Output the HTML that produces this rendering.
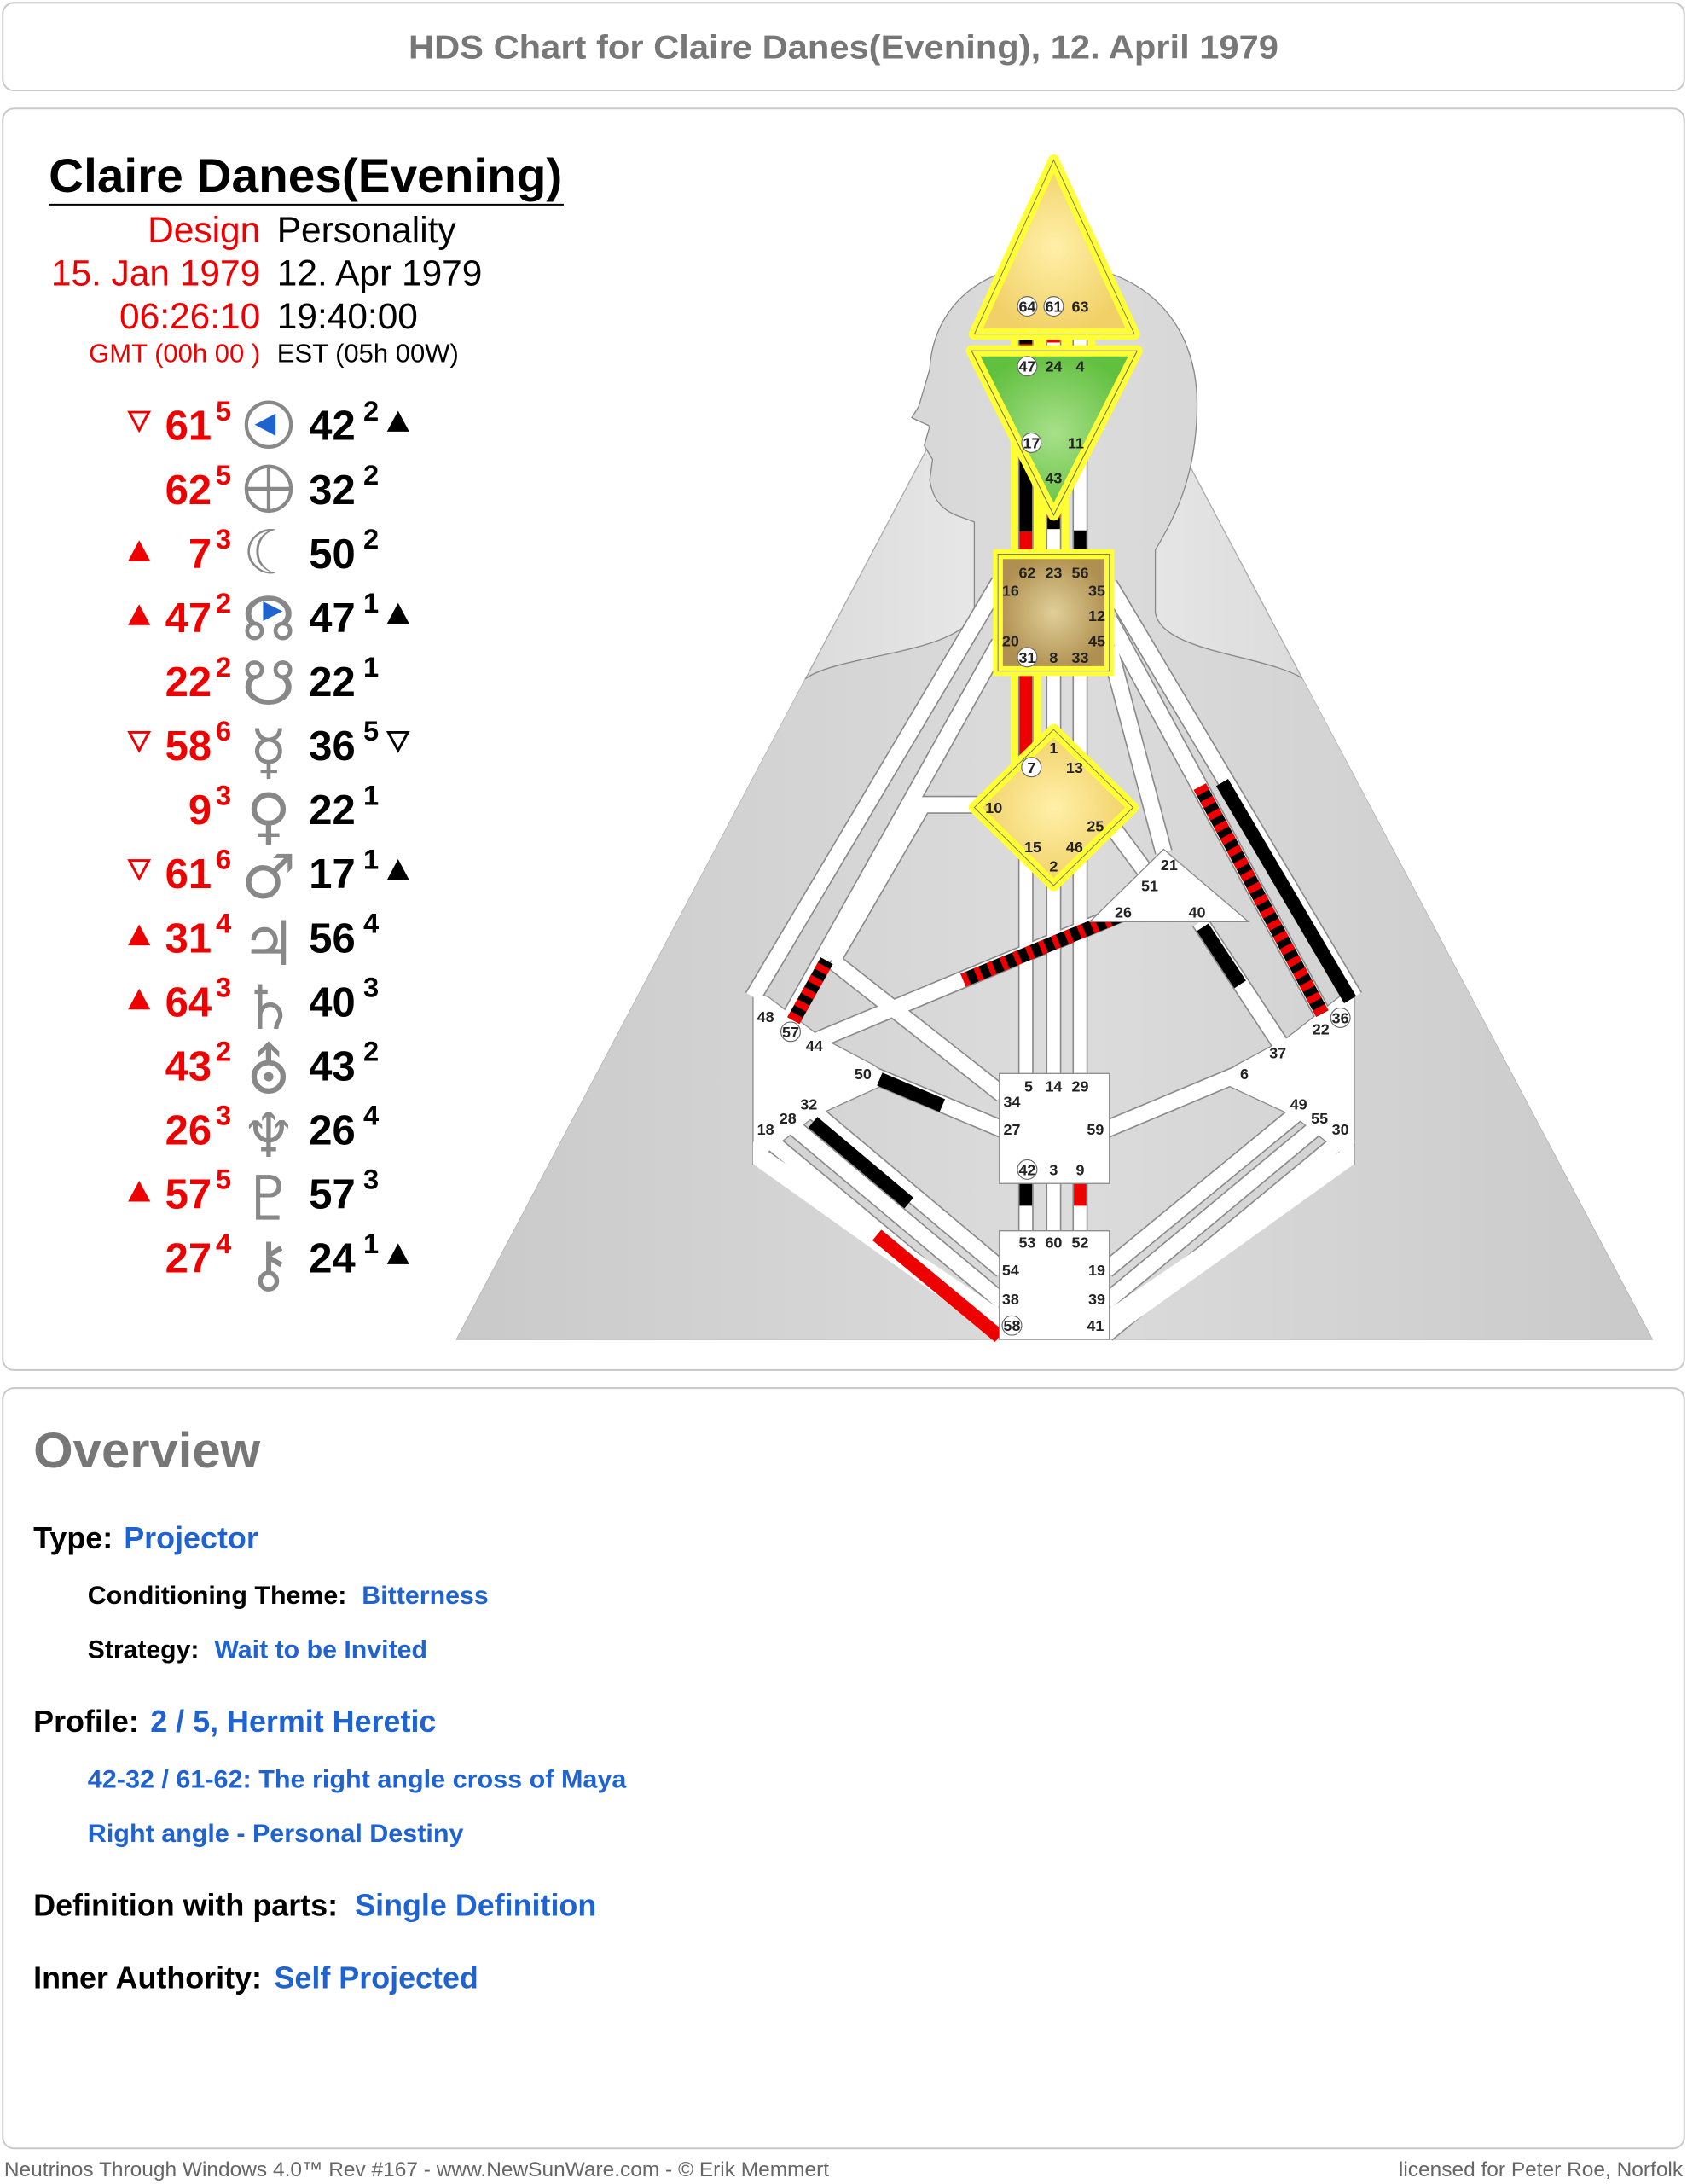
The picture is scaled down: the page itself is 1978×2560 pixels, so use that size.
<!DOCTYPE html>
<html><head><meta charset="utf-8"><style>
html,body{margin:0;padding:0;background:#fff;}
svg{display:block;}
text{font-family:"Liberation Sans",Arial,sans-serif;}
.g{font-size:11px;font-weight:bold;fill:#222;text-anchor:middle;}
.rn{font-size:30px;font-weight:bold;fill:#e00;text-anchor:end;}
.rs{font-size:20px;font-weight:bold;fill:#e00;}
.bn{font-size:30px;font-weight:bold;fill:#000;}
.bs{font-size:20px;font-weight:bold;fill:#000;}
.sym{font-family:"DejaVu Sans",sans-serif;font-size:44px;fill:#888;text-anchor:middle;}
.lab{font-weight:bold;fill:#000;}
.blu{fill:#1f63d0;}
</style></head><body>
<svg width="1978" height="2560" viewBox="0 0 1212 1568.6" preserveAspectRatio="none" xmlns="http://www.w3.org/2000/svg">
<defs>
<linearGradient id="tri" x1="0" y1="0" x2="1" y2="0">
<stop offset="0" stop-color="#c4c4c4"/><stop offset="0.5" stop-color="#ececec"/><stop offset="1" stop-color="#c4c4c4"/></linearGradient>
<linearGradient id="bod" x1="0" y1="0" x2="1" y2="0">
<stop offset="0" stop-color="#c8c8c8"/><stop offset="0.5" stop-color="#dcdcdc"/><stop offset="1" stop-color="#c8c8c8"/></linearGradient>
<radialGradient id="yel"><stop offset="0" stop-color="#fff0a8"/><stop offset="1" stop-color="#f1d067"/></radialGradient>
<radialGradient id="grn"><stop offset="0" stop-color="#a8e08a"/><stop offset="1" stop-color="#62c040"/></radialGradient>
<radialGradient id="brn"><stop offset="0" stop-color="#e0cf98"/><stop offset="1" stop-color="#b09050"/></radialGradient>
<clipPath id="tc"><polygon points="328,962 757,150 1187,962"/><rect x="640" y="170" width="240" height="300"/></clipPath>
</defs>

<rect x="2" y="2" width="1208" height="63" rx="8" fill="#fff" stroke="#c8c8c8" stroke-width="1.2"/>
<text x="606" y="42" font-size="24" font-weight="bold" fill="#777" text-anchor="middle" textLength="625" lengthAdjust="spacingAndGlyphs">HDS Chart for Claire Danes(Evening), 12. April 1979</text>
<rect x="2" y="78" width="1208" height="906" rx="8" fill="#fff" stroke="#c8c8c8" stroke-width="1.2"/>
<rect x="2" y="997" width="1208" height="546" rx="8" fill="#fff" stroke="#c8c8c8" stroke-width="1.2"/>

<!-- ===== chart ===== -->
<polygon points="328,962 757,150 1187,962" fill="url(#tri)" stroke="#aaa" stroke-width="0.8"/>
<g clip-path="url(#tc)">
<path d="M700,440 C690,470 600,470 578,488 C555,505 540,520 520,560 L300,1000 L1220,1000 L990,560 C975,515 955,500 940,490 C915,470 835,470 830,440 L830,395 C845,370 860,340 860,290 C860,230 820,190 757,190 C700,190 670,225 668,265 L660,292 L655,300 L668,306 L664,320 L670,330 L668,345 C672,370 690,370 700,375 Z" fill="url(#bod)" stroke="#888" stroke-width="0.8"/>
</g>

<line x1="737" y1="230" x2="737" y2="548" stroke="#ffff33" stroke-width="22"/>
<line x1="757" y1="230" x2="757" y2="400" stroke="#ffff33" stroke-width="22"/>
<line x1="776" y1="230" x2="776" y2="262" stroke="#ffff33" stroke-width="22"/>

<g stroke-linecap="butt" fill="none">
<g stroke="#8a8a8a" stroke-width="13">
<line x1="718" y1="418" x2="541" y2="716"/>
<line x1="718" y1="462" x2="565" y2="735"/>
<polyline points="702,578 663,578 598,690"/>
<line x1="598" y1="690" x2="720" y2="786"/>
<line x1="585" y1="748" x2="808" y2="655"/>
<line x1="622" y1="770" x2="720" y2="811"/>
<line x1="583" y1="797" x2="720" y2="912"/>
<line x1="566" y1="806" x2="720" y2="935"/>
<line x1="548" y1="815" x2="720" y2="958"/>
<line x1="797" y1="420" x2="973" y2="716"/>
<line x1="797" y1="445" x2="950" y2="728"/>
<line x1="797" y1="465" x2="836" y2="612"/>
<line x1="800" y1="595" x2="826" y2="630"/>
<line x1="862" y1="662" x2="920" y2="750"/>
<line x1="893" y1="770" x2="795" y2="811"/>
<line x1="935" y1="797" x2="795" y2="912"/>
<line x1="950" y1="806" x2="795" y2="935"/>
<line x1="968" y1="815" x2="795" y2="958"/>
</g>
<g stroke="#8a8a8a" stroke-width="11">
<line x1="737" y1="240" x2="737" y2="254"/><line x1="757" y1="240" x2="757" y2="254"/><line x1="776" y1="240" x2="776" y2="254"/>
<line x1="737" y1="318" x2="737" y2="400"/><line x1="757" y1="350" x2="757" y2="400"/><line x1="776" y1="318" x2="776" y2="400"/>
<line x1="737" y1="482" x2="737" y2="548"/><line x1="757" y1="482" x2="757" y2="530"/><line x1="776" y1="482" x2="776" y2="552"/>
<line x1="737" y1="600" x2="737" y2="772"/><line x1="757" y1="615" x2="757" y2="772"/><line x1="776" y1="600" x2="776" y2="772"/>
<line x1="737" y1="849" x2="737" y2="885"/><line x1="757" y1="849" x2="757" y2="885"/><line x1="776" y1="849" x2="776" y2="885"/>
</g>
<polygon points="541,712 552,716 590,745 628,765 642,776 585,802 541,836" fill="#fff" stroke="#8a8a8a" stroke-width="0.8"/>
<polygon points="973,712 962,716 925,745 888,765 874,776 930,802 973,836" fill="#fff" stroke="#8a8a8a" stroke-width="0.8"/>
<polygon points="541,820 541,836 718,962 718,940" fill="#fff"/>
<polygon points="973,820 973,836 797,962 797,940" fill="#fff"/>
<g stroke="#fff" stroke-width="11">
<line x1="718" y1="418" x2="541" y2="716"/>
<line x1="718" y1="462" x2="565" y2="735"/>
<polyline points="702,578 663,578 598,690"/>
<line x1="598" y1="690" x2="720" y2="786"/>
<line x1="585" y1="748" x2="808" y2="655"/>
<line x1="622" y1="770" x2="720" y2="811"/>
<line x1="583" y1="797" x2="720" y2="912"/>
<line x1="566" y1="806" x2="720" y2="935"/>
<line x1="548" y1="815" x2="720" y2="958"/>
<line x1="797" y1="420" x2="973" y2="716"/>
<line x1="797" y1="445" x2="950" y2="728"/>
<line x1="797" y1="465" x2="836" y2="612"/>
<line x1="800" y1="595" x2="826" y2="630"/>
<line x1="862" y1="662" x2="920" y2="750"/>
<line x1="893" y1="770" x2="795" y2="811"/>
<line x1="935" y1="797" x2="795" y2="912"/>
<line x1="950" y1="806" x2="795" y2="935"/>
<line x1="968" y1="815" x2="795" y2="958"/>
</g>
<g stroke="#fff" stroke-width="9">
<line x1="737" y1="240" x2="737" y2="254"/><line x1="757" y1="240" x2="757" y2="254"/><line x1="776" y1="240" x2="776" y2="254"/>
<line x1="737" y1="318" x2="737" y2="400"/><line x1="757" y1="350" x2="757" y2="400"/><line x1="776" y1="318" x2="776" y2="400"/>
<line x1="737" y1="482" x2="737" y2="548"/><line x1="757" y1="482" x2="757" y2="530"/><line x1="776" y1="482" x2="776" y2="552"/>
<line x1="737" y1="600" x2="737" y2="772"/><line x1="757" y1="615" x2="757" y2="772"/><line x1="776" y1="600" x2="776" y2="772"/>
<line x1="737" y1="849" x2="737" y2="885"/><line x1="757" y1="849" x2="757" y2="885"/><line x1="776" y1="849" x2="776" y2="885"/>
</g>
<line x1="737" y1="238" x2="737" y2="254" stroke="#e00" stroke-width="9"/>
<line x1="737" y1="243" x2="737" y2="247" stroke="#000" stroke-width="9"/>
<line x1="757" y1="238" x2="757" y2="246" stroke="#e00" stroke-width="9"/>
<line x1="737" y1="318" x2="737" y2="382" stroke="#000" stroke-width="9"/>
<line x1="737" y1="382" x2="737" y2="400" stroke="#e00" stroke-width="9"/>
<line x1="757" y1="355" x2="757" y2="362" stroke="#000" stroke-width="9"/>
<line x1="757" y1="362" x2="757" y2="372" stroke="#e00" stroke-width="9"/>
<line x1="757" y1="372" x2="757" y2="380" stroke="#000" stroke-width="9"/>
<line x1="776" y1="381" x2="776" y2="400" stroke="#000" stroke-width="9"/>
<line x1="737" y1="482" x2="737" y2="548" stroke="#e00" stroke-width="9"/>
<line x1="737" y1="850" x2="737" y2="866" stroke="#000" stroke-width="9"/>
<line x1="776" y1="850" x2="776" y2="866" stroke="#e00" stroke-width="9"/>
<line x1="570" y1="733" x2="594" y2="690" stroke="#000" stroke-width="10"/>
<line x1="570" y1="733" x2="594" y2="690" stroke="#e00" stroke-width="10" stroke-dasharray="5 5"/>
<line x1="692" y1="704" x2="806" y2="657" stroke="#000" stroke-width="10"/>
<line x1="692" y1="704" x2="806" y2="657" stroke="#e00" stroke-width="10" stroke-dasharray="4 6"/>
<line x1="632" y1="775" x2="677" y2="794" stroke="#000" stroke-width="10"/>
<line x1="584" y1="806" x2="653" y2="864" stroke="#000" stroke-width="10"/>
<line x1="630" y1="887" x2="718" y2="960" stroke="#e00" stroke-width="10"/>
<line x1="864" y1="666" x2="891" y2="707" stroke="#000" stroke-width="10"/>
<line x1="878" y1="562" x2="970" y2="718" stroke="#000" stroke-width="10"/>
<line x1="862" y1="565" x2="950" y2="728" stroke="#000" stroke-width="10"/>
<line x1="862" y1="565" x2="950" y2="728" stroke="#e00" stroke-width="10" stroke-dasharray="5 5"/>
</g>

<polygon points="757,115 700,240 815,240" fill="url(#yel)" stroke="#ffff33" stroke-width="8" stroke-linejoin="round"/>
<polygon points="757,115 700,240 815,240" fill="none" stroke="#777" stroke-width="0.6"/>
<polygon points="698,252 817,252 757,370" fill="url(#grn)" stroke="#ffff33" stroke-width="8" stroke-linejoin="round"/>
<polygon points="698,252 817,252 757,370" fill="none" stroke="#666" stroke-width="0.6"/>
<rect x="717" y="398" width="80" height="84" fill="url(#brn)" stroke="#ffff33" stroke-width="7"/>
<rect x="717" y="398" width="80" height="84" fill="none" stroke="#777" stroke-width="0.6"/>
<polygon points="757,524 814,580 757,636 700,580" fill="url(#yel)" stroke="#ffff33" stroke-width="8" stroke-linejoin="round"/>
<polygon points="757,524 814,580 757,636 700,580" fill="none" stroke="#777" stroke-width="0.6"/>
<polygon points="836,610 897,662 783,662" fill="#fff" stroke="#8a8a8a" stroke-width="0.8"/>
<rect x="718" y="771" width="79" height="79" fill="#fff" stroke="#8a8a8a" stroke-width="0.8"/>
<rect x="718" y="884" width="79" height="78" fill="#fff" stroke="#8a8a8a" stroke-width="0.8"/>

<g fill="#fff" stroke="#666" stroke-width="0.7">
<circle cx="738" cy="220" r="7"/><circle cx="757" cy="220" r="7"/><circle cx="738" cy="263" r="7"/>
<circle cx="741" cy="318" r="7"/><circle cx="738" cy="472" r="7"/><circle cx="741" cy="551" r="7"/>
<circle cx="568" cy="741" r="7"/><circle cx="963" cy="731" r="7"/><circle cx="738" cy="840" r="7"/><circle cx="727" cy="952" r="7"/>
</g>
<g class="g">
<text x="738" y="224">64</text><text x="757" y="224">61</text><text x="776" y="224">63</text>
<text x="738" y="267">47</text><text x="757" y="267">24</text><text x="776" y="267">4</text>
<text x="741" y="322">17</text><text x="773" y="322">11</text><text x="757" y="347">43</text>
<text x="738" y="415">62</text><text x="757" y="415">23</text><text x="776" y="415">56</text>
<text x="726" y="428">16</text><text x="788" y="428">35</text><text x="788" y="446">12</text>
<text x="726" y="464">20</text><text x="788" y="464">45</text>
<text x="738" y="476">31</text><text x="757" y="476">8</text><text x="776" y="476">33</text>
<text x="757" y="541">1</text><text x="741" y="555">7</text><text x="772" y="555">13</text>
<text x="714" y="584">10</text><text x="787" y="597">25</text><text x="742" y="612">15</text><text x="772" y="612">46</text><text x="757" y="626">2</text>
<text x="840" y="625">21</text><text x="826" y="640">51</text><text x="807" y="659">26</text><text x="860" y="659">40</text>
<text x="550" y="734">48</text><text x="568" y="745">57</text><text x="585" y="755">44</text><text x="620" y="775">50</text>
<text x="581" y="797">32</text><text x="566" y="807">28</text><text x="550" y="815">18</text>
<text x="963" y="735">36</text><text x="949" y="743">22</text><text x="918" y="760">37</text><text x="894" y="775">6</text>
<text x="933" y="797">49</text><text x="948" y="807">55</text><text x="963" y="815">30</text>
<text x="739" y="784">5</text><text x="757" y="784">14</text><text x="776" y="784">29</text>
<text x="727" y="795">34</text><text x="727" y="815">27</text><text x="787" y="815">59</text>
<text x="738" y="844">42</text><text x="757" y="844">3</text><text x="776" y="844">9</text>
<text x="738" y="896">53</text><text x="757" y="896">60</text><text x="776" y="896">52</text>
<text x="726" y="916">54</text><text x="788" y="916">19</text><text x="726" y="937">38</text><text x="788" y="937">39</text>
<text x="727" y="956">58</text><text x="787" y="956">41</text>
</g>

<!-- ===== left panel ===== -->
<text x="35" y="138" font-size="34" font-weight="bold" fill="#000" textLength="369" lengthAdjust="spacingAndGlyphs">Claire Danes(Evening)</text>
<line x1="35" y1="147" x2="405" y2="147" stroke="#000" stroke-width="1.2"/>
<g font-size="26">
<text x="187" y="174" fill="#e00" text-anchor="end">Design</text><text x="199" y="174" fill="#000">Personality</text>
<text x="187" y="205" fill="#e00" text-anchor="end">15. Jan 1979</text><text x="199" y="205" fill="#000">12. Apr 1979</text>
<text x="187" y="236" fill="#e00" text-anchor="end">06:26:10</text><text x="199" y="236" fill="#000">19:40:00</text>
</g>
<text x="187" y="260" font-size="19" fill="#e00" text-anchor="end">GMT (00h 00 )</text>
<text x="199" y="260" font-size="19" fill="#000">EST (05h 00W)</text>

<g>
<text class="rn" x="152" y="316">61</text><text class="rs" x="155" y="302">5</text>
<text class="rn" x="152" y="362">62</text><text class="rs" x="155" y="348">5</text>
<text class="rn" x="152" y="408">7</text><text class="rs" x="155" y="394">3</text>
<text class="rn" x="152" y="454">47</text><text class="rs" x="155" y="440">2</text>
<text class="rn" x="152" y="500">22</text><text class="rs" x="155" y="486">2</text>
<text class="rn" x="152" y="546">58</text><text class="rs" x="155" y="532">6</text>
<text class="rn" x="152" y="592">9</text><text class="rs" x="155" y="578">3</text>
<text class="rn" x="152" y="638">61</text><text class="rs" x="155" y="624">6</text>
<text class="rn" x="152" y="684">31</text><text class="rs" x="155" y="670">4</text>
<text class="rn" x="152" y="730">64</text><text class="rs" x="155" y="716">3</text>
<text class="rn" x="152" y="776">43</text><text class="rs" x="155" y="762">2</text>
<text class="rn" x="152" y="822">26</text><text class="rs" x="155" y="808">3</text>
<text class="rn" x="152" y="868">57</text><text class="rs" x="155" y="854">5</text>
<text class="rn" x="152" y="914">27</text><text class="rs" x="155" y="900">4</text>

<text class="bn" x="222" y="316">42</text><text class="bs" x="261" y="302">2</text>
<text class="bn" x="222" y="362">32</text><text class="bs" x="261" y="348">2</text>
<text class="bn" x="222" y="408">50</text><text class="bs" x="261" y="394">2</text>
<text class="bn" x="222" y="454">47</text><text class="bs" x="261" y="440">1</text>
<text class="bn" x="222" y="500">22</text><text class="bs" x="261" y="486">1</text>
<text class="bn" x="222" y="546">36</text><text class="bs" x="261" y="532">5</text>
<text class="bn" x="222" y="592">22</text><text class="bs" x="261" y="578">1</text>
<text class="bn" x="222" y="638">17</text><text class="bs" x="261" y="624">1</text>
<text class="bn" x="222" y="684">56</text><text class="bs" x="261" y="670">4</text>
<text class="bn" x="222" y="730">40</text><text class="bs" x="261" y="716">3</text>
<text class="bn" x="222" y="776">43</text><text class="bs" x="261" y="762">2</text>
<text class="bn" x="222" y="822">26</text><text class="bs" x="261" y="808">4</text>
<text class="bn" x="222" y="868">57</text><text class="bs" x="261" y="854">3</text>
<text class="bn" x="222" y="914">24</text><text class="bs" x="261" y="900">1</text>
</g>
<g>
<polygon points="93,296 107,296 100,309" fill="none" stroke="#e00" stroke-width="1.8"/>
<polygon points="93,526 107,526 100,539" fill="none" stroke="#e00" stroke-width="1.8"/>
<polygon points="93,618 107,618 100,631" fill="none" stroke="#e00" stroke-width="1.8"/>
<polygon points="92,403 108,403 100,388" fill="#e00"/>
<polygon points="92,449 108,449 100,434" fill="#e00"/>
<polygon points="92,679 108,679 100,664" fill="#e00"/>
<polygon points="92,725 108,725 100,710" fill="#e00"/>
<polygon points="92,863 108,863 100,848" fill="#e00"/>
<polygon points="278,310 294,310 286,295" fill="#000"/>
<polygon points="278,448 294,448 286,433" fill="#000"/>
<polygon points="279,526 293,526 286,539" fill="none" stroke="#000" stroke-width="1.8"/>
<polygon points="278,632 294,632 286,617" fill="#000"/>
<polygon points="278,908 294,908 286,893" fill="#000"/>
</g>
<circle cx="193" cy="305" r="16" fill="none" stroke="#888" stroke-width="2.6"/>
<polygon points="183,305 198,297 198,313" fill="#1f63d0"/>
<circle cx="193" cy="351" r="16" fill="none" stroke="#888" stroke-width="2.6"/>
<line x1="177" y1="351" x2="209" y2="351" stroke="#888" stroke-width="2.6"/>
<line x1="193" y1="335" x2="193" y2="367" stroke="#888" stroke-width="2.6"/>
<text class="sym" x="194" y="412">☾</text>
<text class="sym" x="193" y="460">☊</text>
<polygon points="189,432 203,439 189,446" fill="#1f63d0"/>
<text class="sym" x="193" y="506">☋</text>
<text class="sym" x="193" y="555">☿</text>
<text class="sym" x="193" y="601">♀</text>
<text class="sym" x="193" y="645">♂</text>
<text class="sym" x="193" y="693">♃</text>
<text class="sym" x="193" y="739">♄</text>
<text class="sym" x="193" y="785">⛢</text>
<text class="sym" x="193" y="831">♆</text>
<text class="sym" x="193" y="876">♇</text>
<text class="sym" x="193" y="923">⚷</text>

<!-- ===== overview ===== -->
<text x="24" y="1054" font-size="36" font-weight="bold" fill="#777" textLength="163" lengthAdjust="spacingAndGlyphs">Overview</text>
<text x="24" y="1112" font-size="22" class="lab">Type:</text><text x="89" y="1112" font-size="22" font-weight="bold" class="blu">Projector</text>
<text x="63" y="1152" font-size="18" fill="#000" font-weight="bold" textLength="186" lengthAdjust="spacingAndGlyphs">Conditioning Theme:</text><text x="260" y="1152" font-size="18" class="blu" font-weight="bold" textLength="91" lengthAdjust="spacingAndGlyphs">Bitterness</text>
<text x="63" y="1191" font-size="18" fill="#000" font-weight="bold" textLength="80" lengthAdjust="spacingAndGlyphs">Strategy:</text><text x="154" y="1191" font-size="18" class="blu" font-weight="bold" textLength="153" lengthAdjust="spacingAndGlyphs">Wait to be Invited</text>
<text x="24" y="1244" font-size="22" class="lab">Profile:</text><text x="108" y="1244" font-size="22" font-weight="bold" class="blu">2 / 5, Hermit Heretic</text>
<text x="63" y="1284" font-size="18" class="blu" font-weight="bold" textLength="387" lengthAdjust="spacingAndGlyphs">42-32 / 61-62: The right angle cross of Maya</text>
<text x="63" y="1323" font-size="18" class="blu" font-weight="bold" textLength="270" lengthAdjust="spacingAndGlyphs">Right angle - Personal Destiny</text>
<text x="24" y="1376" font-size="22" class="lab">Definition with parts:</text><text x="255" y="1376" font-size="22" font-weight="bold" class="blu">Single Definition</text>
<text x="24" y="1428" font-size="22" class="lab">Inner Authority:</text><text x="197" y="1428" font-size="22" font-weight="bold" class="blu">Self Projected</text>

<text x="3" y="1563" font-size="15" fill="#666">Neutrinos Through Windows 4.0™ Rev #167 - www.NewSunWare.com - © Erik Memmert</text>
<text x="1209" y="1563" font-size="15" fill="#666" text-anchor="end">licensed for Peter Roe, Norfolk</text>
</svg>
</body></html>
